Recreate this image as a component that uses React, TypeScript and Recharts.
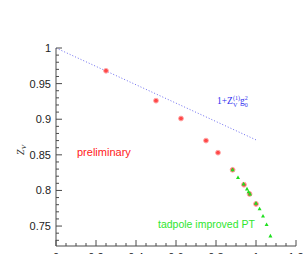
import { ScatterChart, Scatter, XAxis, YAxis } from "recharts";

// Z_V from the lattice (red circles)
const latticeX = [0.25, 0.5, 0.625, 0.75, 0.81, 0.883, 0.94, 0.968, 1.0];
const latticeZ = [0.968, 0.926, 0.901, 0.87, 0.853, 0.829, 0.808, 0.795, 0.781];

// tadpole improved PT (green triangles)
const tadpoleX = [0.883, 0.91, 0.938, 0.955, 0.963, 0.97, 1.0, 1.018, 1.035, 1.053, 1.072];
const tadpoleZ = [0.829, 0.818, 0.809, 0.802, 0.798, 0.795, 0.782, 0.774, 0.764, 0.752, 0.736];

// one-loop 1 + Z_V^(1) g0^2 (blue dotted)
const pertX = [0, 1.0];
const pertZ = [1, 0.871];

const xTicks = [
  0, 0.05, 0.1, 0.15, 0.2, 0.25, 0.3, 0.35, 0.4, 0.45, 0.5, 0.55, 0.6,
  0.65, 0.7, 0.75, 0.8, 0.85, 0.9, 0.95, 1, 1.05, 1.1, 1.15, 1.2,
];
const yTicks = [
  0.73, 0.74, 0.75, 0.76, 0.77, 0.78, 0.79, 0.8, 0.81, 0.82, 0.83, 0.84,
  0.85, 0.86, 0.87, 0.88, 0.89, 0.9, 0.91, 0.92, 0.93, 0.94, 0.95, 0.96,
  0.97, 0.98, 0.99, 1,
];

const zip = (xs: number[], ys: number[]) => xs.map((x, i) => ({ x, z: ys[i] }));
const lattice = zip(latticeX, latticeZ);
const tadpole = zip(tadpoleX, tadpoleZ);
const pert = zip(pertX, pertZ);

const FRAME = "#4a4a4a";
const FONT = "'Liberation Sans', Arial, sans-serif";
const isMajor = (v: number, step: number) => Math.abs(v / step - Math.round(v / step)) < 1e-6;
const fmt = (v: number) => String(+v.toFixed(2));

const BottomTick = (p: any) => {
  const v = p.payload.value;
  const major = isMajor(v, 0.2);
  return (
    <g>
      <line x1={p.x} x2={p.x} y1={p.y} y2={p.y - (major ? 6 : 3)} stroke={FRAME} />
      {major && (
        <text x={p.x} y={p.y + 15} textAnchor="middle" fontSize={11} fontFamily={FONT} fill="#222">
          {fmt(v)}
        </text>
      )}
    </g>
  );
};

const TopTick = (p: any) => {
  const major = isMajor(p.payload.value, 0.2);
  return <line x1={p.x} x2={p.x} y1={p.y} y2={p.y + (major ? 6 : 3)} stroke={FRAME} />;
};

const LeftTick = (p: any) => {
  const v = p.payload.value;
  const major = isMajor(v, 0.05);
  return (
    <g>
      <line x1={p.x} x2={p.x + (major ? 6 : 3)} y1={p.y} y2={p.y} stroke={FRAME} />
      {major && (
        <text x={p.x - 5} y={p.y + 4} textAnchor="end" fontSize={11} fontFamily={FONT} fill="#222">
          {fmt(v)}
        </text>
      )}
    </g>
  );
};

const RightTick = (p: any) => {
  const major = isMajor(p.payload.value, 0.05);
  return <line x1={p.x} x2={p.x - (major ? 6 : 3)} y1={p.y} y2={p.y} stroke={FRAME} />;
};

const RedDot = (p: any) => (
  <circle cx={p.cx} cy={p.cy} r={2.4} fill="#ff4848" stroke="#ffa8a8" strokeWidth={1} />
);
const GreenTri = (p: any) => (
  <polygon
    points={`${p.cx},${p.cy - 2.2} ${p.cx - 2},${p.cy + 1.4} ${p.cx + 2},${p.cy + 1.4}`}
    fill="#1ee01e"
  />
);
const NoDot = () => <g />;

export default function App() {
  return (
    <div style={{ position: "absolute", left: 0, top: 0, width: 303, height: 254, overflow: "hidden", background: "#fff" }}>
      <ScatterChart width={303} height={270} margin={{ top: 48, right: 7, left: 0, bottom: 0 }}>
        <XAxis
          dataKey="x" type="number" domain={[0, 1.2]} ticks={xTicks} interval={0}
          allowDataOverflow tickSize={0} tickMargin={0} height={24}
          axisLine={{ stroke: FRAME }} tick={BottomTick}
        />
        <XAxis
          xAxisId="top" orientation="top" dataKey="x" type="number" domain={[0, 1.2]}
          ticks={xTicks} interval={0} allowDataOverflow tickSize={0} tickMargin={0} height={0}
          axisLine={{ stroke: FRAME }} tick={TopTick}
        />
        <YAxis
          dataKey="z" type="number" domain={[0.722, 1]} ticks={yTicks} interval={0}
          allowDataOverflow tickSize={0} tickMargin={0} width={56}
          axisLine={{ stroke: FRAME }} tick={LeftTick}
        />
        <YAxis
          yAxisId="right" orientation="right" dataKey="z" type="number" domain={[0.722, 1]}
          ticks={yTicks} interval={0} allowDataOverflow tickSize={0} tickMargin={0} width={0}
          axisLine={{ stroke: FRAME }} tick={RightTick}
        />
        <Scatter
          data={pert} shape={NoDot} isAnimationActive={false}
          line={{ stroke: "#6c6cf0", strokeWidth: 1, strokeDasharray: "1 2" }}
        />
        <Scatter data={lattice} shape={RedDot} isAnimationActive={false} />
        <Scatter data={tadpole} shape={GreenTri} isAnimationActive={false} />
      </ScatterChart>
      <svg width={303} height={254} style={{ position: "absolute", left: 0, top: 0, pointerEvents: "none" }}>
        <text transform="translate(24,150) rotate(-90)" textAnchor="middle" fontFamily="'Liberation Serif', serif" fontStyle="italic" fontSize={10} fill="#222">
          Z<tspan dy={2} fontSize={7}>V</tspan>
        </text>
        <text x={217} y={104} fontFamily="'Liberation Serif', serif" fontSize={9.5} fill="#3030f0">
          1+Z
          <tspan dy={-4} fontSize={6}>(1)</tspan>
          <tspan dx={-7} dy={7} fontSize={6}>V</tspan>
          <tspan dx={2.8} dy={-3} fontSize={9.5}>g</tspan>
          <tspan dy={-4} fontSize={6}>2</tspan>
          <tspan dx={-3} dy={7} fontSize={6}>0</tspan>
        </text>
        <text x={77} y={156} fontFamily={FONT} fontSize={11} fill="#ff2020">preliminary</text>
        <text x={158} y={228} fontFamily={FONT} fontSize={10.5} fill="#2ee62e">tadpole improved PT</text>
      </svg>
    </div>
  );
}
